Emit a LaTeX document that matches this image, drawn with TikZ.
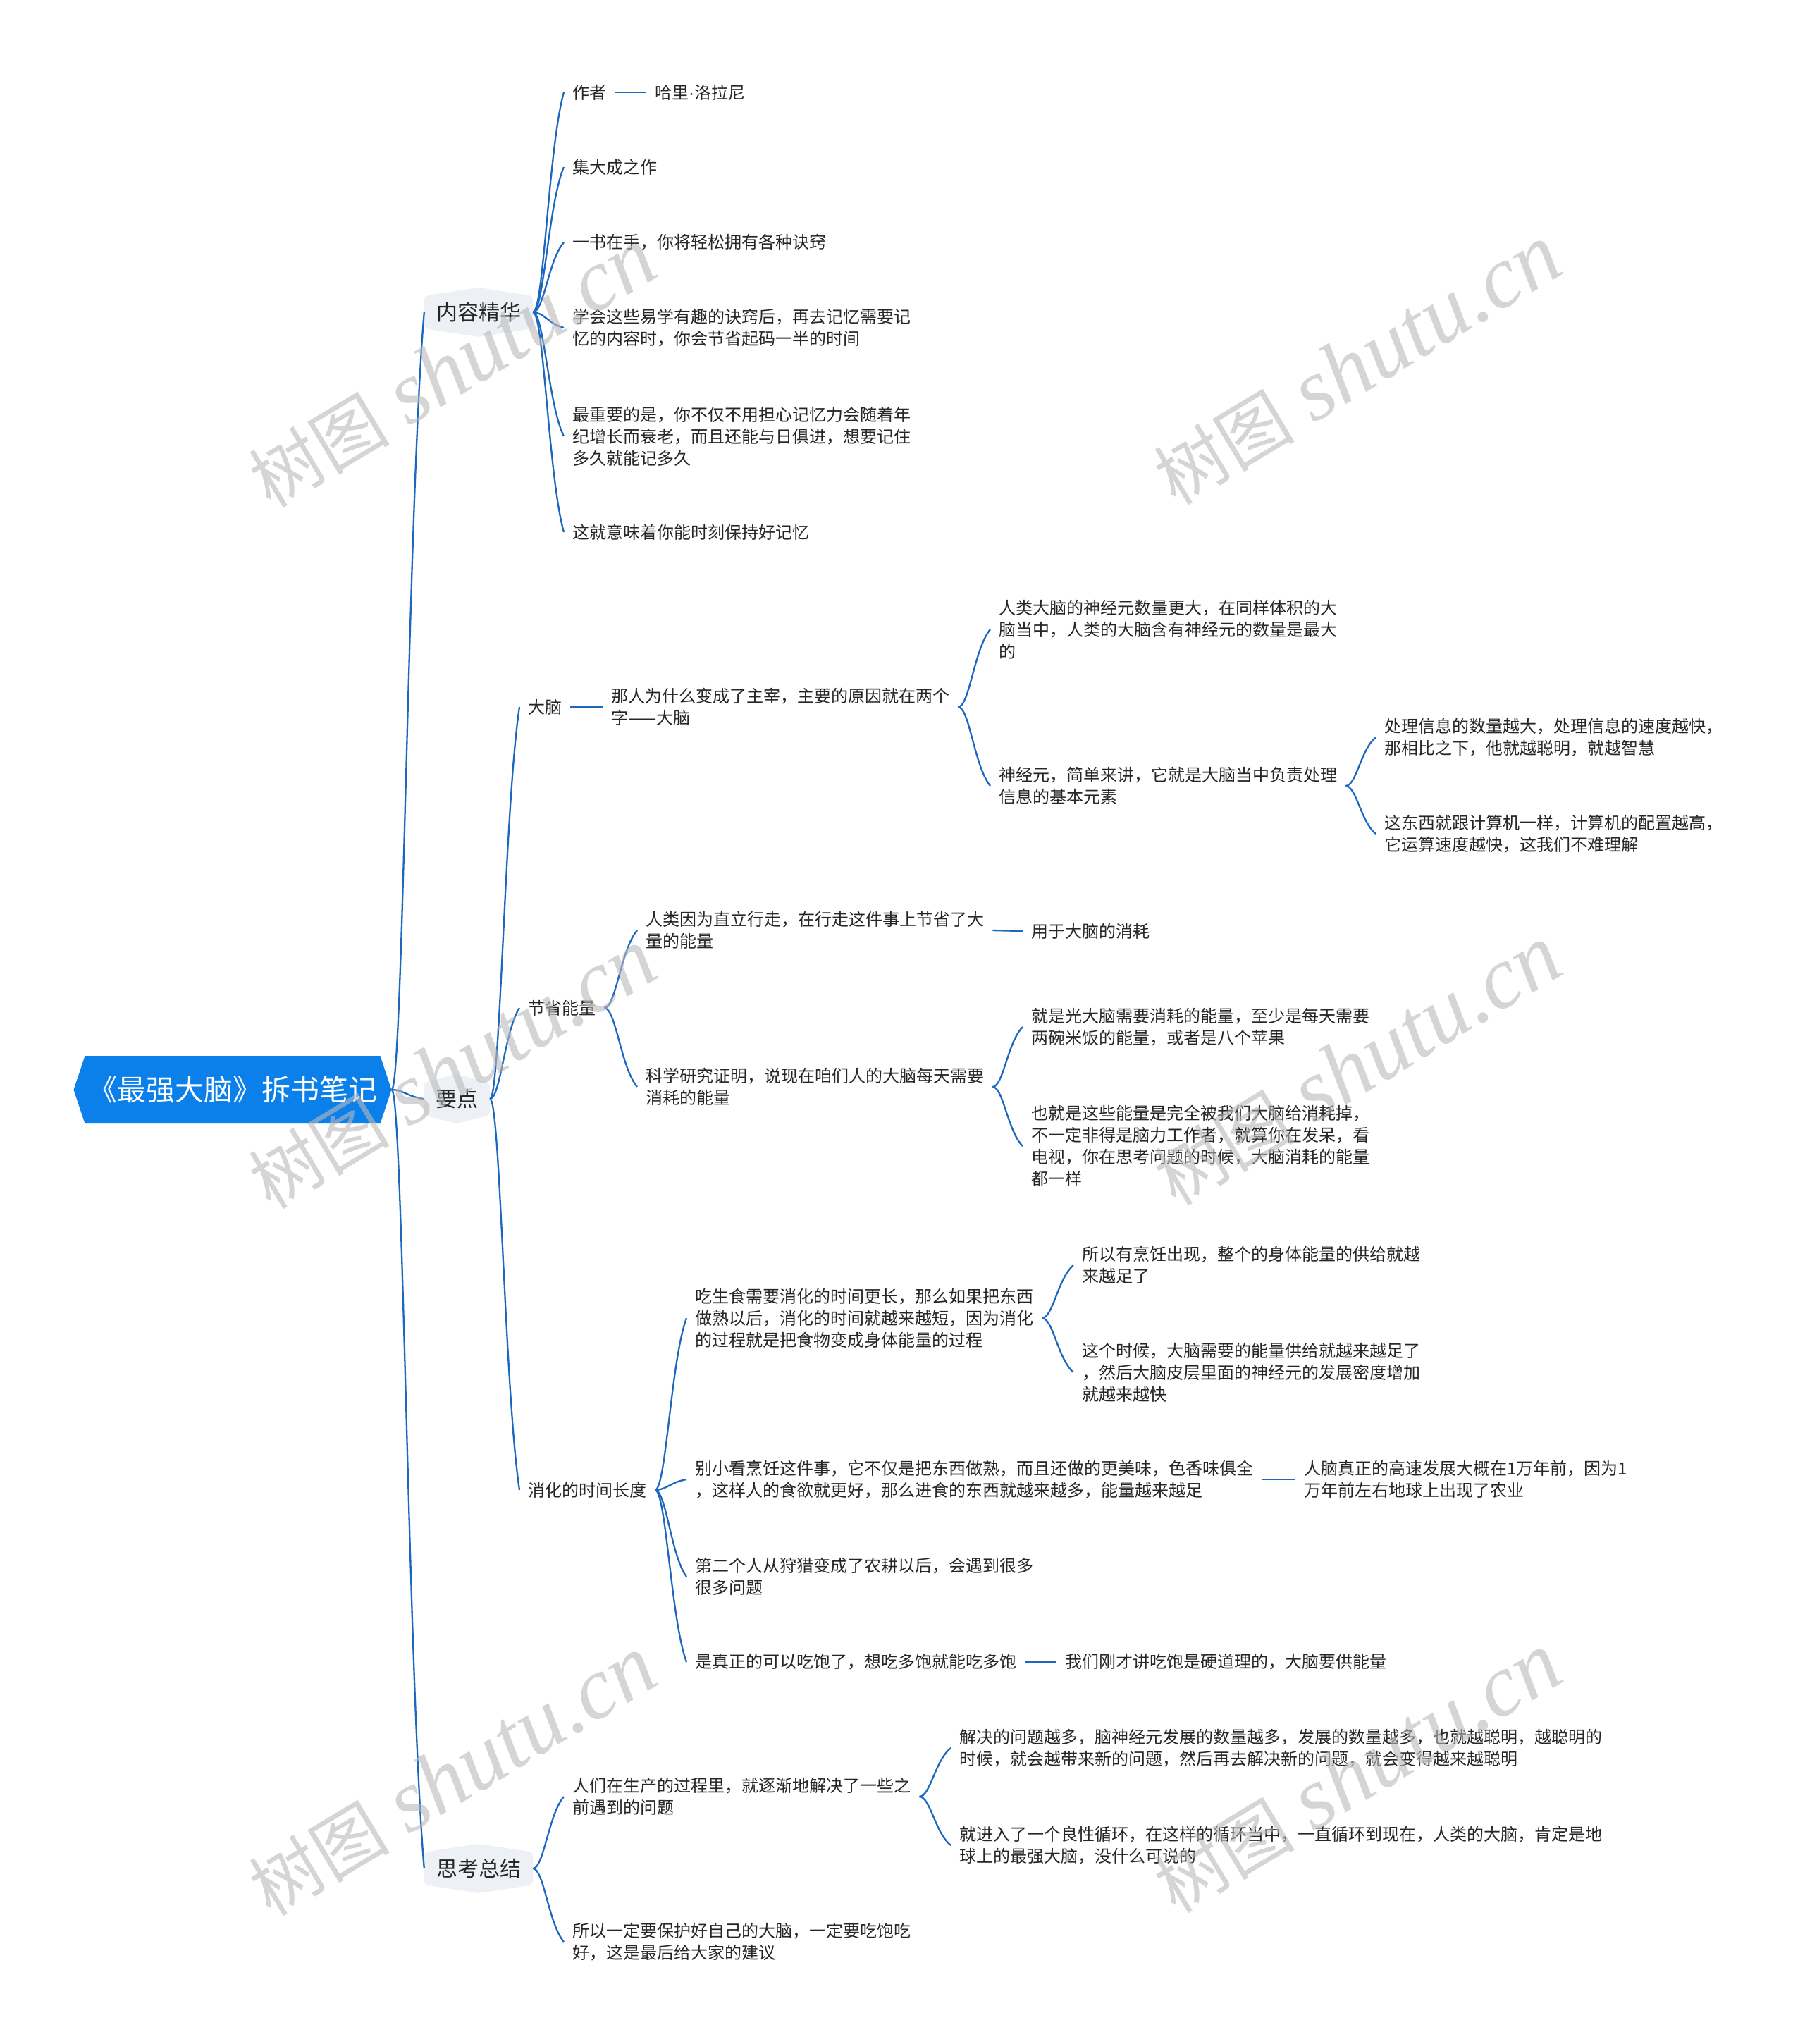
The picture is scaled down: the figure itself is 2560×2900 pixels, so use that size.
\documentclass[tikz,border=0pt]{standalone}
\usepackage{fontspec}
\usetikzlibrary{calc}
\newfontfamily\cjk{Noto Sans CJK SC}
\newfontfamily\wmlatin{Liberation Serif}
\newfontfamily\latinsans{Liberation Sans}
\definecolor{rootblue}{RGB}{12,128,234}
\definecolor{lc}{RGB}{28,104,190}
\definecolor{lonebg}{RGB}{237,240,244}
\definecolor{tc}{RGB}{38,38,38}
\definecolor{wmc}{RGB}{185,185,185}
\tikzset{
  conn/.style={draw=lc, line width=2.3pt, to path={
    let \p1=(\tikztostart), \p2=(\tikztotarget) in
    .. controls ({\x1+0.35*(\x2-\x1)},\y1) and ({\x1+0.5*(\x2-\x1)},{\y2+0.25*(\y1-\y2)}) .. (\tikztotarget)}},
  sline/.style={draw=lc, line width=2.3pt},
  txt/.style={font=\cjk\fontsize{24}{31}\selectfont, text=tc, align=left, inner xsep=12pt, inner ysep=4pt, anchor=west},
  lone/.style={font=\cjk\fontsize{30}{36}\selectfont, text=tc, minimum height=70pt, inner xsep=17pt,
    path picture={\fill[lonebg, rounded corners=5pt]
      ($(path picture bounding box.north west)!0.17!(path picture bounding box.south west)$) --
      (path picture bounding box.north) --
      ($(path picture bounding box.north east)!0.17!(path picture bounding box.south east)$) --
      ($(path picture bounding box.south east)!0.17!(path picture bounding box.north east)$) --
      (path picture bounding box.south) --
      ($(path picture bounding box.south west)!0.17!(path picture bounding box.north west)$) -- cycle;}},
  rootnode/.style={font=\cjk\fontsize{41}{48}\selectfont, text=white, minimum width=451pt, minimum height=96pt, inner sep=0pt,
    path picture={\fill[rootblue]
      (path picture bounding box.west) --
      ($(path picture bounding box.north west)+(16pt,0)$) --
      ($(path picture bounding box.north east)+(-16pt,0)$) --
      (path picture bounding box.east) --
      ($(path picture bounding box.south east)+(-16pt,0)$) --
      ($(path picture bounding box.south west)+(16pt,0)$) -- cycle;}},
  wm/.style={text=wmc, fill opacity=0.6, text opacity=0.6, rotate=31, inner sep=0pt}
}
\begin{document}
\begin{tikzpicture}[x=1pt,y=-1pt]
\fill[white] (0,0) rectangle (2560,2900);
\useasboundingbox (0,0) rectangle (2560,2900);

% root and level one
\node[rootnode] (root) at (330,1546) {《最强大脑》拆书笔记};
\node[lone] (n1) at (679,443) {内容精华};
\node[lone] (n2) at (648,1559) {要点};
\node[lone] (n3) at (679,2651) {思考总结};

% 内容精华
\node[txt] (a1) at (800,131) {作者};
\node[txt] (a1b) at (917,131) {哈里{\latinsans ·}洛拉尼};
\node[txt] (a2) at (800,237) {集大成之作};
\node[txt] (a3) at (800,344) {一书在手，你将轻松拥有各种诀窍};
\node[txt] (a4) at (800,465) {学会这些易学有趣的诀窍后，再去记忆需要记\\忆的内容时，你会节省起码一半的时间};
\node[txt] (a5) at (800,619) {最重要的是，你不仅不用担心记忆力会随着年\\纪增长而衰老，而且还能与日俱进，想要记住\\多久就能记多久};
\node[txt] (a6) at (800,755) {这就意味着你能时刻保持好记忆};

% 要点
\node[txt] (b1) at (737,1003) {大脑};
\node[txt] (b1x) at (855,1003) {那人为什么变成了主宰，主要的原因就在两个\\字——大脑};
\node[txt] (b1x1) at (1405,893) {人类大脑的神经元数量更大，在同样体积的大\\脑当中，人类的大脑含有神经元的数量是最大\\的};
\node[txt] (b1x2) at (1405,1115) {神经元，简单来讲，它就是大脑当中负责处理\\信息的基本元素};
\node[txt] (b1x2a) at (1952,1046) {处理信息的数量越大，处理信息的速度越快，\\那相比之下，他就越聪明，就越智慧};
\node[txt] (b1x2b) at (1952,1183) {这东西就跟计算机一样，计算机的配置越高，\\它运算速度越快，这我们不难理解};

\node[txt] (b2) at (737,1430) {节省能量};
\node[txt] (b2a) at (904,1320) {人类因为直立行走，在行走这件事上节省了大\\量的能量};
\node[txt] (b2a1) at (1451,1321) {用于大脑的消耗};
\node[txt] (b2b) at (904,1542) {科学研究证明，说现在咱们人的大脑每天需要\\消耗的能量};
\node[txt] (b2b1) at (1451,1457) {就是光大脑需要消耗的能量，至少是每天需要\\两碗米饭的能量，或者是八个苹果};
\node[txt] (b2b2) at (1451,1626) {也就是这些能量是完全被我们大脑给消耗掉，\\不一定非得是脑力工作者，就算你在发呆，看\\电视，你在思考问题的时候，大脑消耗的能量\\都一样};

\node[txt] (b3) at (737,2114) {消化的时间长度};
\node[txt] (b3a) at (974,1870) {吃生食需要消化的时间更长，那么如果把东西\\做熟以后，消化的时间就越来越短，因为消化\\的过程就是把食物变成身体能量的过程};
\node[txt] (b3a1) at (1523,1795) {所以有烹饪出现，整个的身体能量的供给就越\\来越足了};
\node[txt] (b3a2) at (1523,1947) {这个时候，大脑需要的能量供给就越来越足了\\，然后大脑皮层里面的神经元的发展密度增加\\就越来越快};
\node[txt] (b3b) at (974,2099) {别小看烹饪这件事，它不仅是把东西做熟，而且还做的更美味，色香味俱全\\，这样人的食欲就更好，那么进食的东西就越来越多，能量越来越足};
\node[txt] (b3b1) at (1838,2099) {人脑真正的高速发展大概在1万年前，因为1\\万年前左右地球上出现了农业};
\node[txt] (b3c) at (974,2237) {第二个人从狩猎变成了农耕以后，会遇到很多\\很多问题};
\node[txt] (b3d) at (974,2358) {是真正的可以吃饱了，想吃多饱就能吃多饱};
\node[txt] (b3d1) at (1499,2358) {我们刚才讲吃饱是硬道理的，大脑要供能量};

% 思考总结
\node[txt] (c1) at (800,2549) {人们在生产的过程里，就逐渐地解决了一些之\\前遇到的问题};
\node[txt] (c1a) at (1349,2480) {解决的问题越多，脑神经元发展的数量越多，发展的数量越多，也就越聪明，越聪明的\\时候，就会越带来新的问题，然后再去解决新的问题，就会变得越来越聪明};
\node[txt] (c1b) at (1349,2618) {就进入了一个良性循环，在这样的循环当中，一直循环到现在，人类的大脑，肯定是地\\球上的最强大脑，没什么可说的};
\node[txt] (c2) at (800,2755) {所以一定要保护好自己的大脑，一定要吃饱吃\\好，这是最后给大家的建议};

% connectors
\draw[conn] (root.east) to (n1.west);
\draw[conn] (root.east) to (n2.west);
\draw[conn] (root.east) to (n3.west);
\foreach \c in {a1,a2,a3,a4,a5,a6} \draw[conn] (n1.east) to (\c.west);
\draw[sline] (a1.east) -- (a1b.west);
\foreach \c in {b1,b2,b3} \draw[conn] (n2.east) to (\c.west);
\draw[sline] (b1.east) -- (b1x.west);
\foreach \c in {b1x1,b1x2} \draw[conn] (b1x.east) to (\c.west);
\foreach \c in {b1x2a,b1x2b} \draw[conn] (b1x2.east) to (\c.west);
\foreach \c in {b2a,b2b} \draw[conn] (b2.east) to (\c.west);
\draw[sline] (b2a.east) -- (b2a1.west);
\foreach \c in {b2b1,b2b2} \draw[conn] (b2b.east) to (\c.west);
\foreach \c in {b3a,b3b,b3c,b3d} \draw[conn] (b3.east) to (\c.west);
\foreach \c in {b3a1,b3a2} \draw[conn] (b3a.east) to (\c.west);
\draw[sline] (b3b.east) -- (b3b1.west);
\draw[sline] (b3d.east) -- (b3d1.west);
\foreach \c in {c1,c2} \draw[conn] (n3.east) to (\c.west);
\foreach \c in {c1a,c1b} \draw[conn] (c1.east) to (\c.west);

% watermarks
\foreach \i/\px/\py in {1/642/522, 2/1926/518, 3/642/1517, 4/1926/1512, 5/642/2520, 6/1926/2516}
  \node[wm] (wm\i) at (\px,\py) {\cjk\fontsize{100}{110}\selectfont 树图\hspace{28pt}\wmlatin\itshape\fontsize{125}{130}\selectfont shutu.cn};
\end{tikzpicture}
\end{document}
